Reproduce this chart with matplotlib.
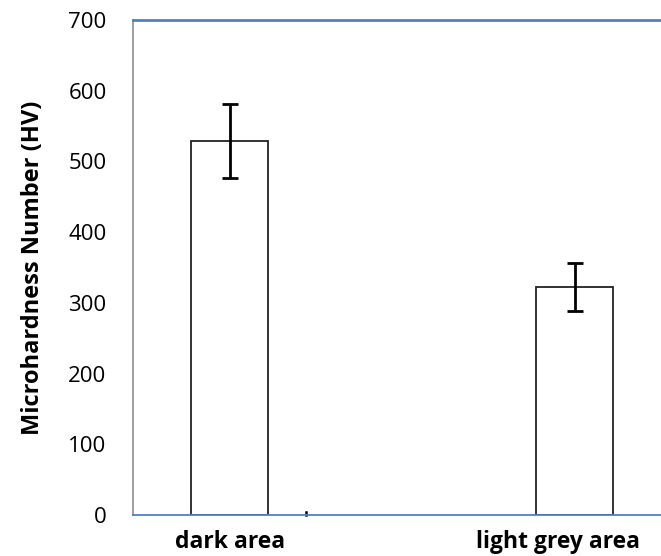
import matplotlib.pyplot as plt
from matplotlib.transforms import ScaledTranslation

# values
categories = ["dark area", "light grey area"]
hardness = [529, 323]
errors = [52, 34]
yticks = [0, 100, 200, 300, 400, 500, 600, 700]

plt.rcParams["font.family"] = ["Open Sans", "DejaVu Sans"]

fig = plt.figure(figsize=(6.61, 5.56), dpi=100)
ax = fig.add_axes([133 / 661, 1 - 515 / 556, 1 - 133 / 661, 495 / 556])

x = list(range(len(categories)))
ax.bar(x, hardness, width=0.223, color="white", edgecolor="#222222", linewidth=1.3,
       yerr=errors, error_kw=dict(ecolor="black", elinewidth=2, capsize=6, capthick=2))

ax.set_xlim(-0.28, 1.25)
ax.set_ylim(0, 700)
ax.set_yticks(yticks)
ax.set_yticklabels([str(v) for v in yticks], fontsize=16)
ax.set_xticks(x)
ax.set_xticklabels(categories, fontsize=16.5, fontweight="bold")
ax.tick_params(axis="y", length=0, pad=19)
ax.tick_params(axis="x", length=0, pad=11)
ax.set_ylabel("Microhardness Number (HV)", fontsize=17, fontweight="bold", labelpad=17)

# the right-hand label sits a bit left of its bar in the reference
lbl = ax.get_xticklabels()[1]
lbl.set_transform(lbl.get_transform() + ScaledTranslation(-0.17, 0, fig.dpi_scale_trans))

ax.spines["right"].set_visible(False)
ax.spines["left"].set_color("#8c8c8c")
ax.spines["left"].set_linewidth(1.2)
ax.spines["top"].set_color("#4f81bd")
ax.spines["top"].set_linewidth(2)
ax.spines["bottom"].set_color("#4f81bd")
ax.spines["bottom"].set_linewidth(1.3)

# small category divider mark at the axis
ax.plot([0.222, 0.222], [0, 4], color="black", linewidth=1.8, clip_on=False)

fig.savefig("out.png", dpi=100)
